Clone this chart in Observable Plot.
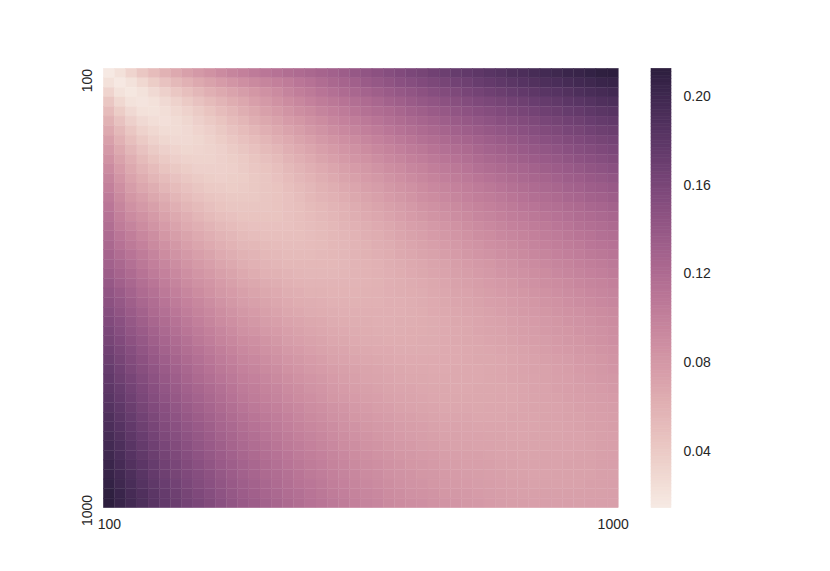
<!DOCTYPE html>
<html><head><meta charset="utf-8">
<script src="https://cdn.jsdelivr.net/npm/d3@7"></script>
<script src="https://cdn.jsdelivr.net/npm/@observablehq/plot@0.6"></script>
<style>
html,body{margin:0;padding:0;background:#fff;}
#chart{position:relative;width:830px;height:571px;font-family:"Liberation Sans",Arial,sans-serif;}
#chart svg{position:absolute;left:0;top:0;overflow:visible;}
</style></head><body><div id="chart"></div>
<script>
// categories (both axes)
const sizes = [100,120,140,160,180,200,220,240,260,280,300,320,340,360,380,400,420,440,460,480,500,520,540,560,580,600,620,640,660,680,700,720,740,760,780,800,820,840,860,880,900,920,940,960,980,1000];
const xTickLabels = [100, 1000];
const yTickLabels = [100, 1000];
const colorTicks = [0.04, 0.08, 0.12, 0.16, 0.20];
const colorDomain = [0.0143, 0.2126];

// heatmap values, one row per y category (top to bottom), columns = x categories
const r00=[.015,.022,.032,.042,.051,.059,.066,.073,.079,.085,.091,.096,.100,.105,.109,.113,.117,.120,.123,.127,.130,.134,.139,.143,.147,.151,.155,.159,.162,.166,.169,.173,.176,.179,.182,.185,.189,.191,.194,.197,.200,.203,.205,.208,.211,.213];
const r01=[.022,.016,.021,.029,.038,.046,.053,.060,.066,.072,.077,.082,.087,.092,.096,.100,.104,.109,.113,.118,.123,.127,.131,.136,.140,.144,.148,.151,.155,.158,.162,.165,.168,.172,.175,.178,.181,.184,.187,.190,.192,.195,.198,.200,.203,.205];
const r02=[.032,.021,.017,.021,.028,.035,.042,.049,.055,.061,.066,.071,.076,.081,.086,.091,.097,.102,.106,.111,.115,.120,.124,.128,.132,.136,.140,.143,.147,.151,.154,.157,.161,.164,.167,.170,.173,.176,.179,.182,.184,.187,.190,.193,.195,.198];
const r03=[.042,.029,.021,.019,.022,.028,.034,.040,.046,.052,.057,.063,.068,.074,.079,.085,.090,.094,.099,.104,.108,.112,.116,.120,.124,.129,.132,.136,.140,.143,.147,.150,.153,.156,.159,.162,.165,.168,.171,.174,.177,.180,.182,.185,.188,.190];
const r04=[.051,.038,.028,.022,.021,.024,.029,.034,.039,.045,.051,.056,.062,.067,.073,.078,.083,.088,.092,.097,.101,.105,.110,.114,.118,.121,.125,.129,.132,.136,.139,.143,.146,.149,.152,.155,.158,.161,.164,.167,.170,.173,.175,.178,.181,.183];
const r05=[.059,.046,.035,.028,.024,.023,.026,.030,.035,.040,.045,.051,.056,.062,.067,.072,.077,.081,.086,.090,.095,.099,.103,.107,.111,.115,.119,.122,.126,.129,.133,.136,.139,.142,.145,.149,.151,.154,.157,.160,.163,.166,.168,.171,.174,.176];
const r06=[.066,.053,.042,.034,.029,.026,.026,.028,.032,.036,.041,.046,.051,.056,.061,.066,.071,.075,.080,.084,.089,.093,.097,.101,.105,.109,.113,.116,.120,.123,.127,.130,.133,.136,.139,.142,.145,.148,.151,.154,.157,.160,.162,.165,.168,.170];
const r07=[.073,.060,.049,.040,.034,.030,.028,.028,.030,.034,.038,.042,.047,.051,.056,.061,.065,.070,.074,.079,.083,.087,.091,.095,.099,.103,.107,.110,.114,.117,.121,.124,.127,.130,.133,.136,.139,.142,.145,.148,.151,.154,.156,.159,.162,.164];
const r08=[.079,.066,.055,.046,.039,.035,.032,.030,.031,.033,.035,.039,.043,.047,.052,.056,.061,.065,.069,.074,.078,.082,.086,.090,.094,.098,.101,.105,.108,.112,.115,.118,.121,.125,.128,.131,.134,.137,.140,.142,.145,.148,.151,.153,.156,.159];
const r09=[.085,.072,.061,.052,.045,.040,.036,.034,.033,.033,.035,.037,.040,.044,.048,.052,.057,.061,.065,.070,.074,.078,.082,.085,.089,.093,.096,.100,.103,.107,.110,.113,.116,.120,.123,.126,.129,.132,.135,.137,.140,.143,.146,.148,.151,.154];
const r10=[.091,.077,.066,.057,.051,.045,.041,.038,.035,.035,.035,.036,.039,.042,.045,.049,.053,.057,.061,.065,.069,.073,.077,.080,.084,.088,.091,.095,.098,.102,.105,.108,.111,.115,.118,.121,.124,.126,.129,.132,.135,.137,.140,.143,.145,.148];
const r11=[.096,.082,.071,.063,.056,.051,.046,.042,.039,.037,.036,.037,.038,.041,.043,.047,.051,.055,.058,.062,.066,.070,.073,.077,.080,.084,.087,.091,.094,.098,.101,.104,.107,.110,.113,.116,.119,.122,.125,.127,.130,.133,.135,.138,.140,.143];
const r12=[.100,.087,.076,.068,.062,.056,.051,.047,.043,.040,.039,.038,.039,.041,.043,.045,.049,.052,.055,.059,.062,.066,.069,.073,.076,.080,.083,.086,.090,.093,.096,.099,.102,.105,.108,.111,.114,.117,.120,.122,.125,.128,.130,.133,.135,.138];
const r13=[.105,.092,.081,.074,.067,.062,.056,.051,.047,.044,.042,.041,.041,.041,.043,.045,.047,.050,.054,.057,.060,.063,.067,.070,.073,.077,.080,.083,.087,.090,.093,.096,.099,.102,.104,.107,.110,.113,.116,.118,.121,.124,.126,.129,.131,.134];
const r14=[.109,.096,.086,.079,.073,.067,.061,.056,.052,.048,.045,.043,.043,.043,.043,.045,.047,.049,.052,.054,.057,.060,.064,.067,.070,.073,.076,.079,.083,.086,.089,.092,.095,.098,.100,.103,.106,.109,.111,.114,.116,.119,.121,.124,.126,.129];
const r15=[.113,.100,.091,.085,.078,.072,.066,.061,.056,.052,.049,.047,.045,.045,.045,.045,.047,.049,.051,.053,.056,.059,.062,.065,.068,.071,.074,.077,.080,.083,.086,.089,.092,.095,.097,.100,.103,.105,.108,.110,.113,.115,.118,.120,.122,.125];
const r16=[.117,.104,.097,.090,.083,.077,.071,.065,.061,.057,.053,.051,.049,.047,.047,.047,.047,.049,.050,.052,.054,.057,.060,.062,.065,.068,.071,.074,.076,.079,.082,.085,.088,.091,.093,.096,.099,.101,.104,.106,.109,.111,.114,.116,.118,.121];
const r17=[.120,.109,.102,.094,.088,.081,.075,.070,.065,.061,.057,.055,.052,.050,.049,.049,.049,.049,.050,.052,.054,.056,.058,.061,.063,.066,.069,.072,.074,.077,.080,.082,.085,.088,.090,.093,.095,.098,.100,.103,.105,.108,.110,.112,.115,.117];
const r18=[.123,.113,.106,.099,.092,.086,.080,.074,.069,.065,.061,.058,.055,.054,.052,.051,.050,.050,.051,.052,.054,.055,.057,.059,.062,.064,.067,.069,.072,.074,.077,.079,.082,.084,.087,.089,.092,.094,.097,.099,.102,.104,.106,.109,.111,.113];
const r19=[.127,.118,.111,.104,.097,.090,.084,.079,.074,.070,.065,.062,.059,.057,.054,.053,.052,.052,.052,.053,.054,.055,.057,.059,.061,.063,.066,.068,.070,.072,.075,.077,.080,.082,.084,.087,.089,.092,.094,.096,.099,.101,.103,.106,.108,.110];
const r20=[.130,.123,.115,.108,.101,.095,.089,.083,.078,.074,.069,.066,.062,.060,.057,.056,.054,.054,.054,.054,.054,.055,.057,.058,.060,.062,.064,.066,.068,.070,.072,.075,.077,.079,.081,.084,.086,.089,.091,.093,.096,.098,.100,.102,.104,.107];
const r21=[.134,.127,.120,.112,.105,.099,.093,.087,.082,.078,.073,.070,.066,.063,.060,.059,.057,.056,.055,.055,.055,.056,.057,.058,.060,.061,.063,.065,.067,.069,.071,.073,.075,.077,.079,.082,.084,.086,.088,.090,.093,.095,.097,.099,.101,.104];
const r22=[.139,.131,.124,.116,.110,.103,.097,.091,.086,.082,.077,.073,.069,.067,.064,.062,.060,.058,.057,.057,.057,.057,.057,.058,.059,.061,.062,.064,.065,.067,.069,.072,.073,.075,.077,.079,.081,.084,.086,.088,.090,.092,.094,.096,.098,.100];
const r23=[.143,.136,.128,.120,.114,.107,.101,.095,.090,.085,.080,.077,.073,.070,.067,.065,.062,.061,.059,.059,.058,.058,.058,.059,.060,.061,.062,.063,.064,.066,.068,.070,.071,.073,.075,.077,.079,.081,.083,.085,.087,.089,.091,.093,.095,.097];
const r24=[.147,.140,.132,.124,.118,.111,.105,.099,.094,.089,.084,.080,.076,.073,.070,.068,.065,.063,.062,.061,.060,.060,.059,.060,.060,.061,.061,.062,.064,.065,.067,.069,.070,.072,.074,.075,.077,.079,.081,.083,.085,.087,.089,.091,.093,.095];
const r25=[.151,.144,.136,.129,.121,.115,.109,.103,.098,.093,.088,.084,.080,.077,.073,.071,.068,.066,.064,.063,.062,.061,.061,.061,.061,.061,.061,.062,.063,.065,.066,.068,.069,.070,.072,.074,.076,.078,.079,.081,.083,.085,.086,.088,.090,.092];
const r26=[.155,.148,.140,.132,.125,.119,.113,.107,.101,.096,.091,.087,.083,.080,.076,.074,.071,.069,.067,.066,.064,.063,.062,.062,.061,.061,.062,.062,.063,.064,.065,.067,.068,.069,.071,.072,.074,.076,.077,.079,.081,.083,.084,.086,.088,.090];
const r27=[.159,.151,.143,.136,.129,.122,.116,.110,.105,.100,.095,.091,.086,.083,.079,.077,.074,.072,.069,.068,.066,.065,.064,.063,.062,.062,.062,.063,.063,.064,.065,.066,.067,.069,.070,.071,.073,.075,.076,.078,.080,.081,.083,.084,.086,.088];
const r28=[.162,.155,.147,.140,.132,.126,.120,.114,.108,.103,.098,.094,.090,.087,.083,.080,.076,.074,.072,.070,.068,.067,.065,.064,.064,.063,.063,.063,.064,.064,.065,.066,.067,.068,.069,.070,.072,.074,.075,.076,.078,.080,.081,.083,.085,.087];
const r29=[.166,.158,.151,.143,.136,.129,.123,.117,.112,.107,.102,.098,.093,.090,.086,.083,.079,.077,.074,.072,.070,.069,.067,.066,.065,.065,.064,.064,.064,.064,.065,.065,.066,.067,.068,.069,.070,.072,.073,.075,.077,.078,.080,.081,.083,.085];
const r30=[.169,.162,.154,.147,.139,.133,.127,.121,.115,.110,.105,.101,.096,.093,.089,.086,.082,.080,.077,.075,.072,.071,.069,.068,.067,.066,.065,.065,.065,.065,.065,.065,.066,.067,.067,.068,.069,.071,.072,.073,.075,.076,.078,.079,.081,.083];
const r31=[.173,.165,.157,.150,.143,.136,.130,.124,.118,.113,.108,.104,.099,.096,.092,.089,.085,.082,.079,.077,.075,.073,.072,.070,.069,.068,.067,.066,.066,.065,.065,.066,.066,.066,.067,.068,.069,.071,.072,.072,.074,.075,.077,.078,.080,.082];
const r32=[.176,.168,.161,.153,.146,.139,.133,.127,.121,.116,.111,.107,.102,.099,.095,.092,.088,.085,.082,.080,.077,.075,.073,.071,.070,.069,.068,.067,.067,.066,.066,.066,.066,.066,.067,.068,.069,.070,.071,.072,.073,.074,.076,.077,.079,.080];
const r33=[.179,.172,.164,.156,.149,.142,.136,.130,.125,.120,.115,.110,.105,.102,.098,.095,.091,.088,.084,.082,.079,.077,.075,.073,.072,.070,.069,.069,.068,.067,.067,.066,.066,.067,.067,.067,.068,.069,.071,.071,.073,.074,.075,.076,.077,.079];
const r34=[.182,.175,.167,.159,.152,.145,.139,.133,.128,.123,.118,.113,.108,.104,.100,.097,.093,.090,.087,.084,.081,.079,.077,.075,.074,.072,.071,.070,.069,.068,.067,.067,.067,.067,.067,.068,.068,.069,.070,.071,.072,.073,.074,.075,.076,.077];
const r35=[.185,.178,.170,.162,.155,.149,.142,.136,.131,.126,.121,.116,.111,.107,.103,.100,.096,.093,.089,.087,.084,.082,.079,.077,.075,.074,.072,.071,.070,.069,.068,.068,.068,.067,.068,.068,.068,.069,.070,.070,.071,.072,.073,.074,.075,.076];
const r36=[.189,.181,.173,.165,.158,.151,.145,.139,.134,.129,.124,.119,.114,.110,.106,.103,.099,.095,.092,.089,.086,.084,.081,.079,.077,.076,.074,.073,.072,.070,.069,.069,.069,.068,.068,.068,.069,.069,.069,.070,.071,.072,.072,.073,.074,.075];
const r37=[.191,.184,.176,.168,.161,.154,.148,.142,.137,.132,.126,.122,.117,.113,.109,.105,.101,.098,.094,.092,.089,.086,.084,.081,.079,.078,.076,.075,.074,.072,.071,.071,.070,.069,.069,.069,.069,.069,.069,.070,.070,.071,.072,.073,.073,.075];
const r38=[.194,.187,.179,.171,.164,.157,.151,.145,.140,.135,.129,.125,.120,.116,.111,.108,.104,.100,.097,.094,.091,.088,.086,.083,.081,.079,.077,.076,.075,.073,.072,.072,.071,.071,.070,.070,.069,.069,.070,.070,.070,.071,.071,.072,.073,.074];
const r39=[.197,.190,.182,.174,.167,.160,.154,.148,.142,.137,.132,.127,.122,.118,.114,.110,.106,.103,.099,.096,.093,.090,.088,.085,.083,.081,.079,.078,.076,.075,.073,.072,.072,.071,.071,.070,.070,.070,.070,.070,.071,.071,.071,.072,.073,.074];
const r40=[.200,.192,.184,.177,.170,.163,.157,.151,.145,.140,.135,.130,.125,.121,.116,.113,.109,.105,.102,.099,.096,.093,.090,.087,.085,.083,.081,.080,.078,.077,.075,.074,.073,.073,.072,.071,.071,.070,.070,.071,.071,.071,.072,.072,.073,.074];
const r41=[.203,.195,.187,.180,.173,.166,.160,.154,.148,.143,.137,.133,.128,.124,.119,.115,.111,.108,.104,.101,.098,.095,.092,.089,.087,.085,.083,.081,.080,.078,.076,.075,.074,.074,.073,.072,.072,.071,.071,.071,.071,.072,.072,.072,.073,.074];
const r42=[.205,.198,.190,.182,.175,.168,.162,.156,.151,.146,.140,.135,.130,.126,.121,.118,.114,.110,.106,.103,.100,.097,.094,.091,.089,.086,.084,.083,.081,.080,.078,.077,.076,.075,.074,.073,.072,.072,.071,.071,.072,.072,.072,.072,.073,.073];
const r43=[.208,.200,.193,.185,.178,.171,.165,.159,.153,.148,.143,.138,.133,.129,.124,.120,.116,.112,.109,.106,.102,.099,.096,.093,.091,.088,.086,.084,.083,.081,.079,.078,.077,.076,.075,.074,.073,.073,.072,.072,.072,.072,.072,.073,.073,.074];
const r44=[.211,.203,.195,.188,.181,.174,.168,.162,.156,.151,.145,.140,.135,.131,.126,.122,.118,.115,.111,.108,.104,.101,.098,.095,.093,.090,.088,.086,.085,.083,.081,.080,.079,.077,.076,.075,.074,.073,.073,.073,.073,.073,.073,.073,.073,.074];
const r45=[.213,.205,.198,.190,.183,.176,.170,.164,.159,.154,.148,.143,.138,.134,.129,.125,.121,.117,.113,.110,.107,.104,.100,.097,.095,.092,.090,.088,.087,.085,.083,.082,.080,.079,.077,.076,.075,.075,.074,.074,.074,.074,.073,.074,.074,.074];

const values = [r00,r01,r02,r03,r04,r05,r06,r07,r08,r09,r10,r11,r12,r13,r14,r15,r16,r17,r18,r19,r20,r21,r22,r23,r24,r25,r26,r27,r28,r29,r30,r31,r32,r33,r34,r35,r36,r37,r38,r39,r40,r41,r42,r43,r44,r45];

// table for Plot
const cells = [];
values.forEach((row, j) => {
  if (row.length !== sizes.length) console.warn("row", j, "has", row.length);
  row.forEach((v, i) => cells.push({x: sizes[i], y: sizes[j], v}));
});

// seaborn-style cubehelix colormap (light -> dark)
function cubehelix(x) {
  const start = 0, rot = 0.4, hue = 0.8;
  const a = hue * x * (1 - x) / 2;
  const phi = 2 * Math.PI * (start / 3 + rot * x);
  const c = Math.cos(phi), s = Math.sin(phi);
  const cl = t => Math.max(0, Math.min(1, t)) * 255;
  const r = x + a * (-0.14861 * c + 1.78277 * s);
  const g = x + a * (-0.29227 * c - 0.90649 * s);
  const b = x + a * (1.97294 * c);
  return d3.rgb(cl(r), cl(g), cl(b)).formatHex();
}
const light = 0.93, dark = 0.15;
const interp = t => cubehelix(light + (dark - light) * t);
const colorScale = {type: "linear", domain: colorDomain, interpolate: interp, clamp: true};

const textColor = "#262626";
const fmt = d => String(d);
const W = 830, H = 571;
const frame = {left: 103.3, top: 68.3, right: 618.3, bottom: 507.7};

const heat = Plot.plot({
  width: W, height: H,
  marginLeft: frame.left, marginTop: frame.top,
  marginRight: W - frame.right, marginBottom: H - frame.bottom,
  style: {background: "transparent", fontFamily: '"Liberation Sans", Arial, sans-serif', fontSize: "14px", color: textColor},
  x: {type: "band", domain: sizes, padding: 0, round: false, axis: null},
  y: {type: "band", domain: sizes, padding: 0, round: false, axis: null},
  color: colorScale,
  marks: [
    Plot.cell(cells, {x: "x", y: "y", fill: "v", stroke: "v", strokeWidth: 0.35, inset: 0}),
    Plot.axisX({ticks: xTickLabels, tickFormat: fmt, tickSize: 0, tickPadding: 10.5, fontSize: 14, label: null, fill: textColor}),
    Plot.axisY({ticks: yTickLabels, tickFormat: fmt, tickSize: 0, tickPadding: 11.5, tickRotate: -90, fontSize: 14, label: null, dy: 7, fill: textColor})
  ]
});

// colour bar
const cb = {left: 651, right: 671};
const n = 128;
const levels = d3.range(n).map(k => {
  const lo = colorDomain[0] + (colorDomain[1] - colorDomain[0]) * k / n;
  const hi = colorDomain[0] + (colorDomain[1] - colorDomain[0]) * (k + 1) / n;
  return {lo, hi, mid: (lo + hi) / 2};
});
const bar = Plot.plot({
  width: W, height: H,
  marginLeft: cb.left, marginRight: W - cb.right,
  marginTop: frame.top, marginBottom: H - frame.bottom,
  style: {background: "transparent", fontFamily: '"Liberation Sans", Arial, sans-serif', fontSize: "14px", color: textColor},
  x: {domain: [0, 1], axis: null},
  y: {domain: colorDomain, axis: null},
  color: colorScale,
  marks: [
    Plot.rect(levels, {x1: 0, x2: 1, y1: "lo", y2: "hi", fill: "mid", stroke: "mid", strokeWidth: 0.6, inset: 0}),
    Plot.axisY({anchor: "right", ticks: colorTicks, tickSize: 0, tickPadding: 12, tickFormat: d3.format(".2f"), fontSize: 14, label: null, fill: textColor})
  ]
});

const root = document.getElementById("chart");
root.appendChild(heat);
root.appendChild(bar);
</script>
</body></html>
